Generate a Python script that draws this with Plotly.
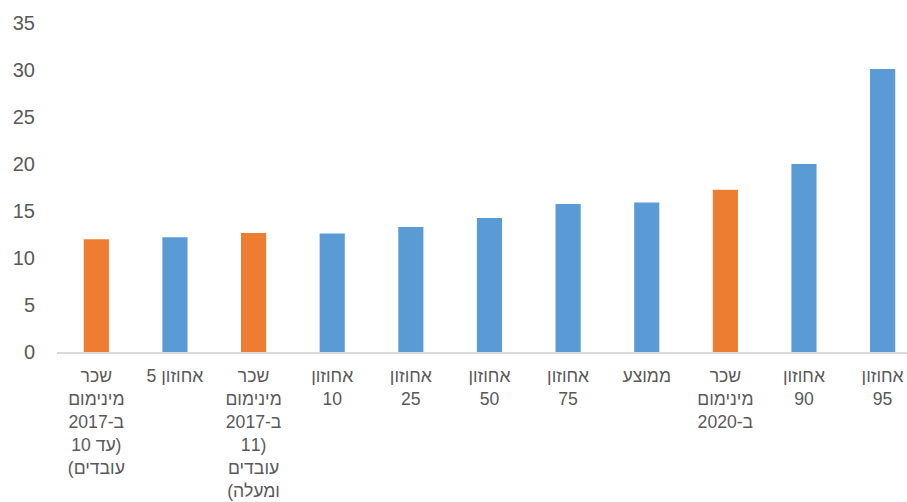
import plotly.graph_objects as go

# Data
label_lines = [
    ["שכר", "מינימום", "ב-2017", "(עד 10", "עובדים)"],
    ["אחוזון 5"],
    ["שכר", "מינימום", "ב-2017", "(11", "עובדים", "ומעלה)"],
    ["אחוזון", "10"],
    ["אחוזון", "25"],
    ["אחוזון", "50"],
    ["אחוזון", "75"],
    ["ממוצע"],
    ["שכר", "מינימום", "ב-2020"],
    ["אחוזון", "90"],
    ["אחוזון", "95"],
]
values = [12.0, 12.2, 12.65, 12.6, 13.3, 14.25, 15.75, 15.9, 17.25, 20.0, 30.1]
is_min_wage = [True, False, True, False, False, False, False, False, True, False, False]
y_ticks = [0, 5, 10, 15, 20, 25, 30, 35]

BLUE = "#5B9BD5"
ORANGE = "#ED7D31"

RLE, PDF = "\u202B", "\u202C"
ticktext = ["<br>".join(RLE + ln + PDF for ln in lines) for lines in label_lines]
xs = list(range(len(values)))
colors = [ORANGE if m else BLUE for m in is_min_wage]

fig = go.Figure(
    go.Bar(
        x=xs,
        y=values,
        marker=dict(color=colors, line=dict(width=0)),
        width=0.32,
        hoverinfo="y",
    )
)

fig.update_layout(
    width=907,
    height=502,
    margin=dict(l=57, r=0, t=23, b=150, autoexpand=False),
    paper_bgcolor="white",
    plot_bgcolor="white",
    showlegend=False,
    font=dict(family="Liberation Sans, Arial, sans-serif", color="#595959"),
)
fig.update_xaxes(
    tickmode="array",
    tickvals=xs,
    ticktext=ticktext,
    range=[-0.5, 10.31],
    showline=True,
    linecolor="#D9D9D9",
    linewidth=2,
    showgrid=False,
    zeroline=False,
    ticks="",
    tickfont=dict(size=17.6, color="#595959"),
    ticklabelstandoff=7,
    automargin=False,
)
fig.update_yaxes(
    range=[0, 35],
    tickmode="array",
    tickvals=y_ticks,
    showgrid=False,
    zeroline=False,
    showline=False,
    ticks="",
    tickfont=dict(size=20, color="#595959"),
    ticklabelstandoff=21,
    automargin=False,
)

fig.write_html(
    "out.html",
    config={"displayModeBar": False},
    post_script="document.body.style.margin='0';document.body.style.overflow='hidden';",
)
